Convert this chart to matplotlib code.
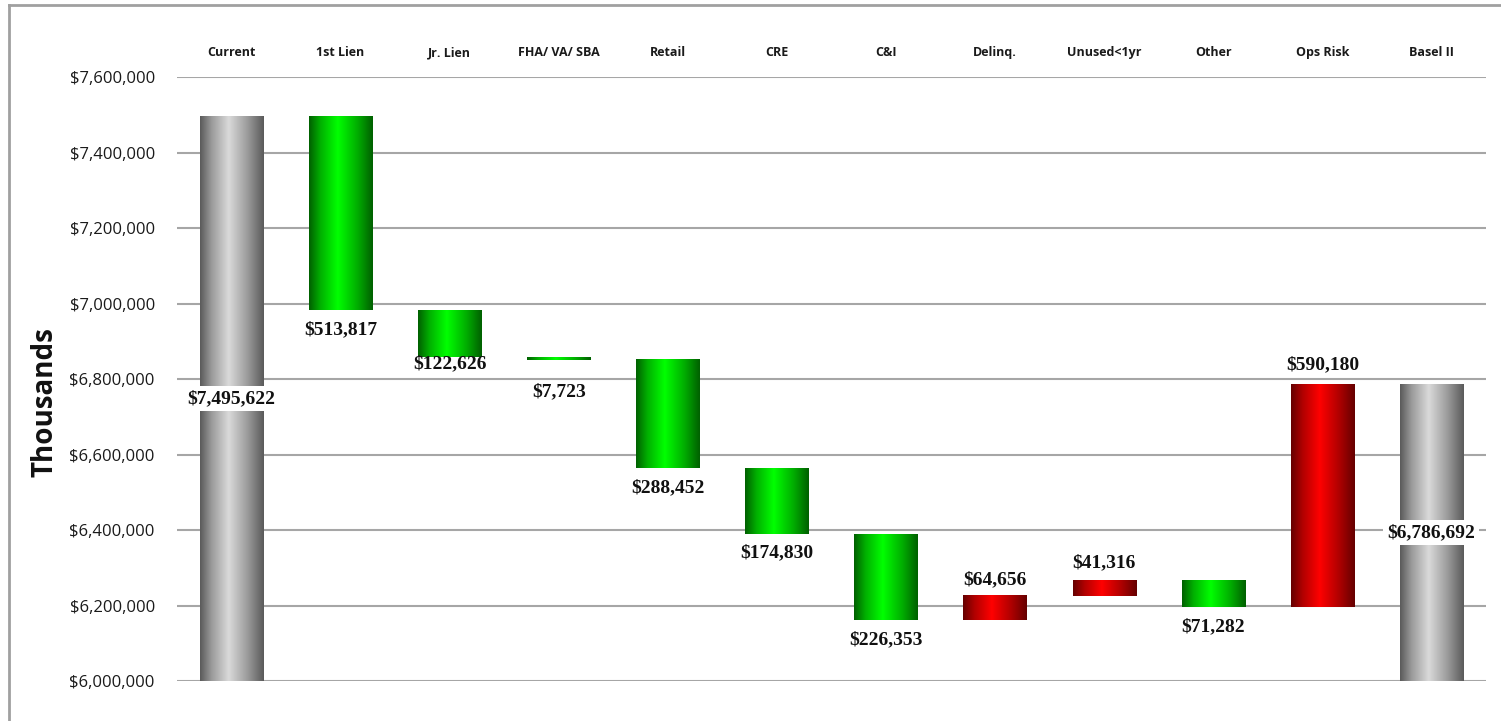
import numpy as np
import matplotlib.pyplot as plt
from matplotlib.colors import LinearSegmentedColormap
from matplotlib.lines import Line2D
from matplotlib.ticker import FuncFormatter

categories = ["Current", "1st Lien", "Jr. Lien", "FHA/ VA/ SBA", "Retail", "CRE", "C&I",
              "Delinq.", "Unused<1yr", "Other", "Ops Risk", "Basel II"]
# first and last are totals, the rest are changes
changes = [7495622, -513817, -122626, -7723, -288452, -174830, -226353,
           64656, 41316, -71282, 590180, 6786692]
y_ticks = [6000000, 6200000, 6400000, 6600000, 6800000, 7000000, 7200000, 7400000, 7600000]

W, H = 1501, 721
fig = plt.figure(figsize=(W / 100, H / 100), dpi=100)
ax = fig.add_axes([177 / W, 1 - 681 / H, (1486 - 177) / W, (681 - 77) / H])


def shade(dark, mid, light):
    return LinearSegmentedColormap.from_list(
        "s", [(0, dark), (0.18, mid), (0.45, light), (0.75, mid), (1, dark)])


cmaps = {
    "total": shade("#5a5a5a", "#9a9a9a", "#dadada"),
    "down": shade("#006000", "#00b000", "#00ff00"),
    "up": shade("#650000", "#b00000", "#ff0000"),
}
grad = np.linspace(0, 1, 256).reshape(1, -1)

bw = 0.58
running = 0
label_off = [0, 19, 7, 32, 19, 18, 20, -16, -17, 20, -19, 0]  # pixels from bar end
for i, (cat, v) in enumerate(zip(categories, changes)):
    if i == 0 or i == len(changes) - 1:
        bottom, top = 0, v
        running = v
        kind = "total"
    else:
        start = running
        running = running + v
        bottom, top = min(start, running), max(start, running)
        kind = "up" if v > 0 else "down"
    ax.imshow(grad, extent=[i - bw / 2, i + bw / 2, bottom, top], aspect="auto",
              cmap=cmaps[kind], interpolation="bilinear", zorder=3)
    txt = "${:,}".format(abs(v))
    kw = dict(ha="center", va="center", fontsize=14, fontweight="bold",
              family="Liberation Serif", color="#111111", zorder=5)
    if kind == "total":
        mid = (6000000 + top) / 2
        ax.text(i, mid, txt, bbox=dict(fc="white", ec="none", pad=3), **kw)
    elif kind == "down":
        ax.annotate(txt, (i, bottom), xytext=(0, -label_off[i] * 0.72),
                    textcoords="offset points", **kw)
    else:
        ax.annotate(txt, (i, top), xytext=(0, -label_off[i] * 0.72),
                    textcoords="offset points", **kw)

    # category name above the plot
    ax.annotate(cat, (i, 1.0), xycoords=ax.get_xaxis_transform(), xytext=(0, 15),
                textcoords="offset points", ha="center", va="baseline",
                family="Open Sans", fontweight="bold", fontsize=9, color="#1a1a1a")

ax.set_xlim(-0.5, len(categories) - 0.5)
ax.set_ylim(6000000, 7600000)
ax.set_yticks(y_ticks)
ax.yaxis.set_major_formatter(FuncFormatter(lambda x, p: "${:,.0f}".format(x)))
ax.grid(axis="y", color="#a6a6a6", lw=1.5, zorder=1)
ax.set_axisbelow(True)
for s in ax.spines.values():
    s.set_visible(False)
ax.tick_params(axis="y", length=0, pad=16, labelsize=12, labelcolor="#1a1a1a")
for t in ax.get_yticklabels():
    t.set_family("Open Sans")
ax.set_xticks([])

fig.text(45 / W, 1 - 402 / H, "Thousands", rotation=90, ha="center", va="center",
         family="Open Sans", fontweight="bold", fontsize=20, color="#111111")

# outer frame
fig.add_artist(Line2D([9 / W, 9 / W], [0, 1 - 5 / H], color="#a0a0a0", lw=2))
fig.add_artist(Line2D([9 / W, 1], [1 - 5 / H, 1 - 5 / H], color="#a0a0a0", lw=2))

fig.savefig("out.png", dpi=100)
